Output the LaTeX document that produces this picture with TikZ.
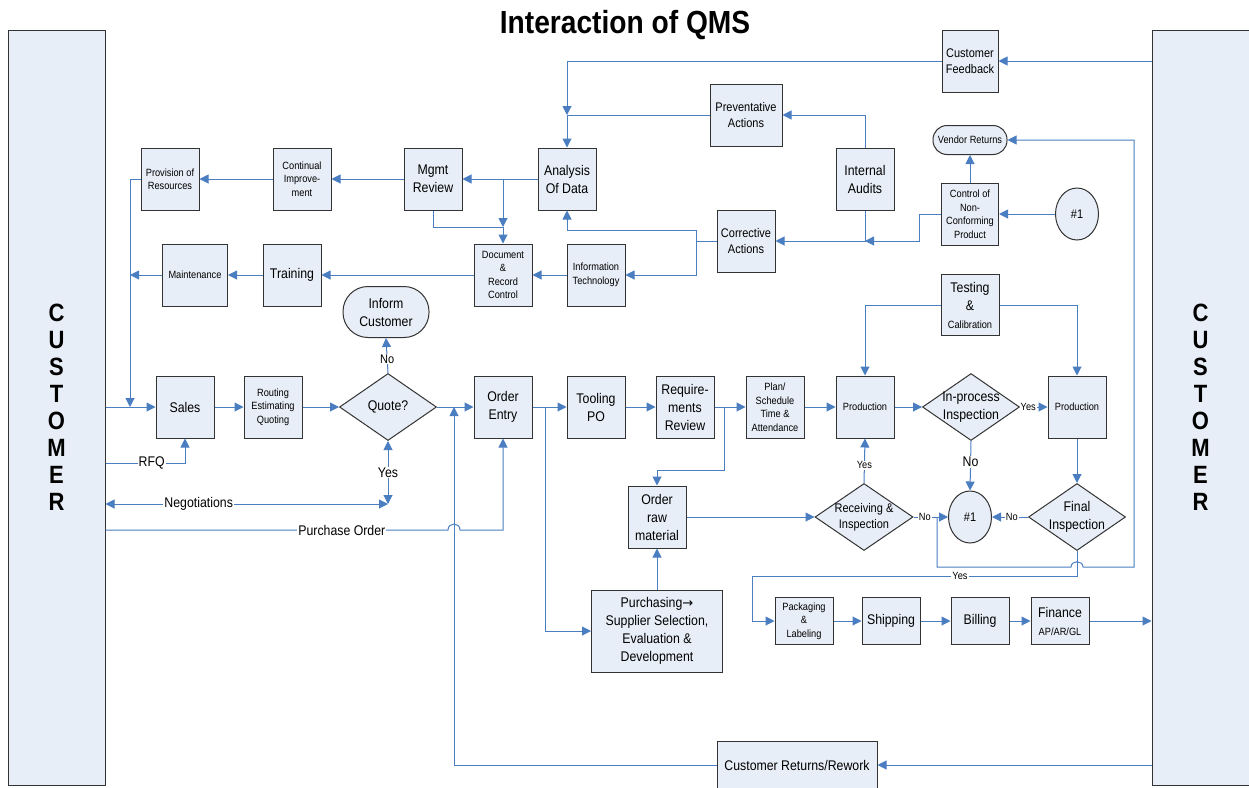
\documentclass[tikz,border=0pt]{standalone}
\usepackage{fontspec}
\setmainfont{Liberation Sans}[FakeStretch=0.88]
\newfontfamily\arrowfont{DejaVu Sans}
\usetikzlibrary{arrows.meta,shapes.geometric}

\definecolor{qmsfill}{RGB}{232,238,247}
\definecolor{qmsline}{RGB}{74,126,193}
\newcommand\bigtxt{\fontsize{14}{18}\selectfont}
\newcommand\midtxt{\fontsize{12.5}{16}\selectfont}
\newcommand\smalltxt{\fontsize{10.5}{13.5}\selectfont}

\begin{document}
\begin{tikzpicture}[x=1pt, y=-1pt,
    box/.style={draw=black!80, line width=1pt, fill=qmsfill, align=center,
      inner sep=1pt, minimum width=58pt, minimum height=62pt, font=\bigtxt},
    term/.style={box},
    conn/.style={draw=black!80, line width=1pt, fill=qmsfill, ellipse,
      inner sep=0pt, minimum width=43pt, minimum height=52pt, font=\midtxt},
    dia/.style={draw=black!80, line width=1pt, fill=qmsfill, diamond,
      inner sep=0pt, minimum width=97pt, minimum height=67pt},
    dialbl/.style={align=center, font=\bigtxt},
    cust/.style={draw=black!80, line width=1pt, fill=qmsfill, align=center,
      minimum width=97pt, minimum height=755pt,
      font=\fontsize{25}{27}\selectfont\bfseries},
    flow/.style={draw=qmsline, line width=1pt, -{Triangle[length=9pt,width=9pt]}},
    both/.style={flow, {Triangle[length=9pt,width=9pt]}-{Triangle[length=9pt,width=9pt]}},
    plain/.style={draw=qmsline, line width=1pt},
    lbl/.style={fill=white, inner sep=1pt, font=\bigtxt},
    mlbl/.style={lbl, font=\midtxt},
    slbl/.style={lbl, font=\smalltxt}]
  \useasboundingbox (0,0) rectangle (1249,787);

  \node (title) at (625,25) {\fontsize{32}{34}\selectfont\bfseries Interaction of QMS};
  \node[cust] (cust-l) at (56.5,407.5) {C\\U\\S\\T\\O\\M\\E\\R};
  \node[cust] (cust-r) at (1200.5,407.5) {C\\U\\S\\T\\O\\M\\E\\R};

  % upper part
  \node[box, font=\midtxt, minimum width=56pt] (feedback) at (970,61) {Customer\\Feedback};
  \node[box, font=\midtxt, minimum width=72pt] (prevent) at (746,115) {Preventative\\Actions};
  \node[box] (audits) at (865,179) {Internal\\Audits};
  \node[term, font=\smalltxt, minimum width=74pt, minimum height=29pt,
    rounded corners=14pt] (vendret) at (970,140) {Vendor Returns};
  \node[box, font=\smalltxt, minimum width=57pt] (ncp) at (970,214) {Control of\\Non-\\Conforming\\Product};
  \node[conn] (one-a) at (1077,214) {\#1};
  \node[box] (analysis) at (567,179) {Analysis\\Of Data};
  \node[box] (mgmt) at (433,179) {Mgmt\\Review};
  \node[box, font=\smalltxt] (contimp) at (302,179) {Continual\\Improve-\\ment};
  \node[box, font=\smalltxt] (provision) at (170,179) {Provision of\\Resources};
  \node[box, font=\midtxt] (corrective) at (746,241) {Corrective\\Actions};
  \node[box, font=\smalltxt] (infotech) at (596,275) {Information\\Technology};
  \node[box, font=\smalltxt] (docctrl) at (503,275) {Document\\\&\\Record\\Control};
  \node[box] (training) at (292,275) {Training};
  \node[box, font=\smalltxt, minimum width=65pt] (maint) at (195,275) {Maintenance};
  \node[term, minimum width=86pt, minimum height=51pt,
    rounded corners=25pt] (inform) at (386,312) {Inform\\Customer};
  \node[box, minimum height=61pt] (testcal) at (970,305) {Testing\\\&\\{\smalltxt Calibration}};

  % main row
  \node[box] (sales) at (185,407) {Sales};
  \node[box, font=\smalltxt] (routing) at (273,407) {Routing\\Estimating\\Quoting};
  \node[dia, label={[dialbl, name=quote-t]center:Quote?}] (quote) at (388,407) {};
  \node[box] (orderentry) at (503,407) {Order\\Entry};
  \node[box] (tooling) at (596,407) {Tooling\\PO};
  \node[box] (reqrev) at (685,407) {Require-\\ments\\Review};
  \node[box, font=\smalltxt] (plan) at (775,407) {Plan/\\Schedule\\Time \&\\Attendance};
  \node[box, font=\smalltxt] (prod-a) at (865,407) {Production};
  \node[dia, label={[dialbl, name=inproc-t]center:In-process\\Inspection}] (inproc) at (971,407) {};
  \node[box, font=\smalltxt] (prod-b) at (1077,407) {Production};
  \node[dia, label={[dialbl, name=final-t]center:Final\\Inspection}] (finalinsp) at (1077,517) {};
  \node[conn] (one-b) at (970,517) {\#1};
  \node[dia, minimum width=98pt,
    label={[dialbl, font=\midtxt, name=rec-t]center:Receiving \&\\Inspection}] (recinsp) at (864,517) {};
  \node[box] (rawmat) at (657,517) {Order\\raw\\material};
  \node[box, minimum width=131pt, minimum height=82pt] (purch) at (657,631)
    {Purchasing{\arrowfont\fontsize{13}{18}\selectfont →}\\Supplier Selection,\\Evaluation \&\\Development};
  \node[box, font=\smalltxt, minimum height=47pt] (packlab) at (804,621) {Packaging\\\&\\Labeling};
  \node[box, minimum height=47pt] (shipping) at (891,621) {Shipping};
  \node[box, minimum height=47pt] (billing) at (980,621) {Billing};
  \node[box, minimum height=47pt] (finance) at (1060,621) {Finance\\{\smalltxt AP/AR/GL}};
  \node[box, minimum width=160pt, minimum height=48pt] (returns) at (797,765) {Customer Returns/Rework};

  \coordinate (res-j) at (130,407);
  \coordinate (neg-r) at (388,504);
  \coordinate (ret-j) at (454,407);
  \coordinate (oe-b) at (545,407);
  \coordinate (rr-b) at (724,407);
  \coordinate (ad-b) at (503,179);
  \coordinate (mr-j) at (503,227);
  \coordinate (ca-j) at (696,241);
  \coordinate (loop-b) at (937,567);
  \coordinate (loop-r) at (1134,567);
  \coordinate (yes-c) at (752,576);

  % feedback, audits, actions
  \draw[flow] (cust-r.west |- feedback) -- (feedback.east);
  \draw[flow] (feedback.west) -| (analysis.north |- prevent.west);
  \draw[flow] (prevent.west) -| (analysis.north);
  \draw[flow] (audits.north) |- (prevent.east);
  \draw[flow] (audits.south) |- (corrective.east);
  \draw[flow] (ncp.west) -- ++(-22,0) |- (audits.south |- corrective.east);
  \draw[flow] (one-a.west) -- (ncp.east);
  \draw[flow] (ncp.north) -- (vendret.south);
  \draw[plain] (corrective.west) -- (ca-j);
  \draw[flow] (ca-j) |- (infotech.east);
  \draw[flow] (ca-j) -- ++(0,-11) -| (analysis.south);
  \draw[flow] (analysis.west) -- (mgmt.east);
  \draw[flow] (ad-b) -- (mr-j);
  \draw[flow] (mgmt.south) |- (mr-j) -- (docctrl.north);
  \draw[flow] (mgmt.west) -- (contimp.east);
  \draw[flow] (contimp.west) -- (provision.east);
  \draw[flow] (infotech.west) -- (docctrl.east);
  \draw[flow] (docctrl.west) -- (training.east);
  \draw[flow] (training.west) -- (maint.east);
  \draw[flow] (maint.west) -- (res-j |- maint.west);
  \draw[flow] (provision.west) -| (res-j);

  % sales to order entry
  \draw[flow] (cust-l.east |- sales) -- (sales.west);
  \draw[flow] (cust-l.east |- 0,463) -| node[lbl, pos=0.29] {RFQ} (sales.south);
  \draw[flow] (sales.east) -- (routing.west);
  \draw[flow] (routing.east) -- (quote.west);
  \draw[flow] (quote.north) -- node[mlbl, pos=0.4] {No} (inform.south);
  \draw[flow] (quote.east) -- (orderentry.west);
  \draw[both] (cust-l.east |- neg-r) -- node[lbl, pos=0.33] {Negotiations} (neg-r);
  \draw[both] (quote.south) -- node[lbl] {Yes} (neg-r);
  \draw[flow] (cust-l.east |- 0,530) -- node[lbl, pos=0.69] {Purchase Order} (448,530)
    .. controls (448,522) and (460,522) .. (460,530) -| (orderentry.south);
  \draw[flow] (returns.west) -| (ret-j);
  \draw[flow] (cust-r.west |- returns) -- (returns.east);

  % production
  \draw[flow] (orderentry.east) -- (tooling.west);
  \draw[flow] (oe-b) |- (purch.west);
  \draw[flow] (tooling.east) -- (reqrev.west);
  \draw[flow] (reqrev.east) -- (plan.west);
  \draw[flow] (rr-b) -- ++(0,63) -| (rawmat.north);
  \draw[flow] (purch.north) -- (rawmat.south);
  \draw[flow] (rawmat.east) -- (recinsp.west);
  \draw[flow] (plan.east) -- (prod-a.west);
  \draw[flow] (testcal.west) -| (prod-a.north);
  \draw[flow] (testcal.east) -| (prod-b.north);
  \draw[flow] (prod-a.east) -- (inproc.west);
  \draw[flow] (inproc.east) -- node[slbl, pos=0.3] {Yes} (prod-b.west);
  \draw[flow] (inproc.south) -- node[lbl, pos=0.42] {No} (one-b.north);
  \draw[flow] (prod-b.south) -- (finalinsp.north);
  \draw[flow] (finalinsp.west) -- node[slbl, pos=0.45] {No} (one-b.east);
  \draw[flow] (recinsp.north) -- node[slbl, pos=0.4] {Yes} (prod-a.south);
  \draw[flow] (recinsp.east) -- node[slbl, pos=0.33] {No} (one-b.west);
  \draw[flow] (loop-b |- one-b) -- (loop-b) -- (1071,567)
    .. controls (1071,560) and (1083,560) .. (1083,567) -- (loop-r) |- (vendret.east);
  \draw[flow] (finalinsp.south) |- node[slbl, pos=0.68] {Yes} (yes-c) |- (packlab.west);

  % shipping
  \draw[flow] (packlab.east) -- (shipping.west);
  \draw[flow] (shipping.east) -- (billing.west);
  \draw[flow] (billing.east) -- (finance.west);
  \draw[flow] (finance.east) -- (cust-r.west |- finance);
\end{tikzpicture}
\end{document}
